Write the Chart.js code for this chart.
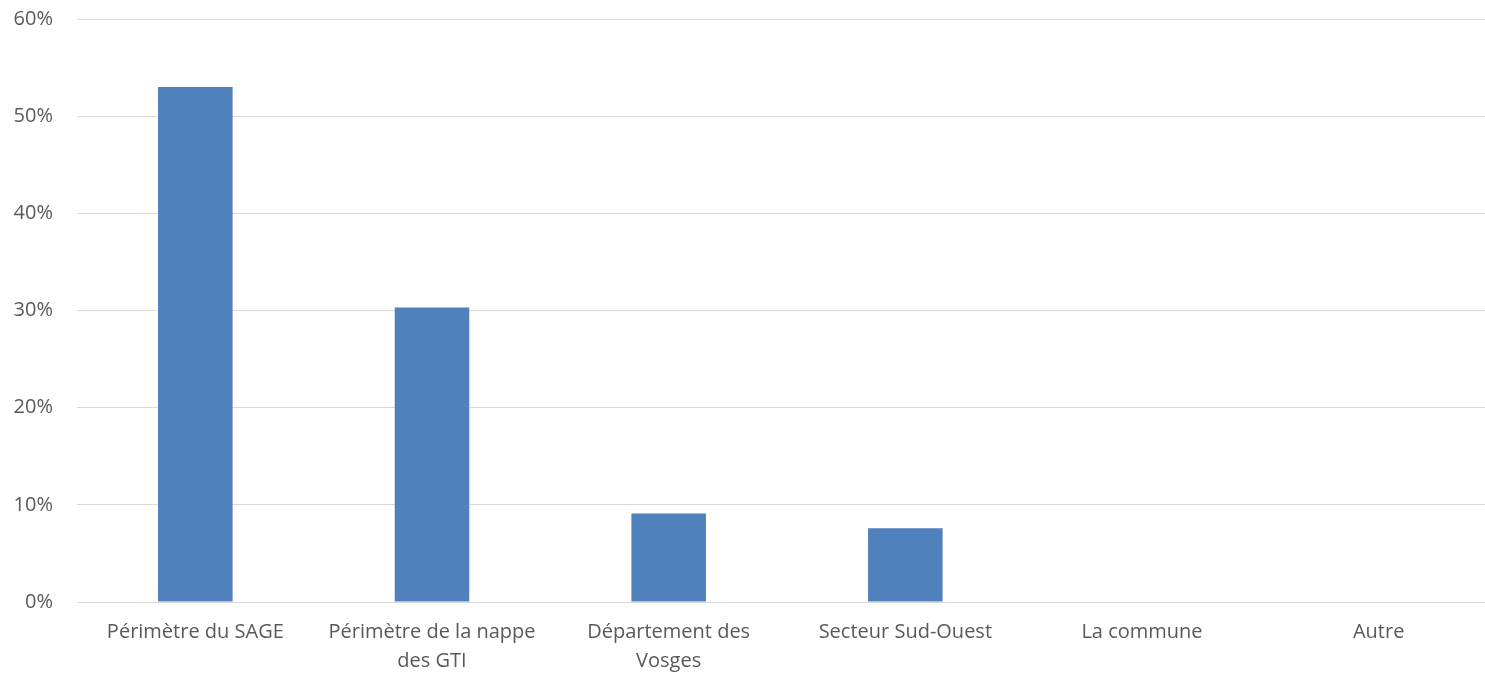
<!DOCTYPE html>
<html>
<head>
<meta charset="utf-8">
<script src="https://cdn.jsdelivr.net/npm/chart.js@4.4.1/dist/chart.umd.min.js"></script>
<style>
html,body{margin:0;padding:0;background:#fff;overflow:hidden;}
#wrap{width:1497px;height:691px;position:relative;top:-17px;}
</style>
</head>
<body>
<div id="wrap"><canvas id="c"></canvas></div>
<script>
const categories = [
  "Périmètre du SAGE",
  ["Périmètre de la nappe", "des GTI"],
  ["Département des", "Vosges"],
  "Secteur Sud-Ouest",
  "La commune",
  "Autre"
];
const values = [53.0, 30.3, 9.1, 7.6, 0, 0];
const yTicks = [0, 10, 20, 30, 40, 50, 60];

new Chart(document.getElementById('c'), {
  type: 'bar',
  data: {
    labels: categories,
    datasets: [{
      data: values,
      backgroundColor: '#4f81bd',
      borderWidth: 0,
      categoryPercentage: 1,
      barPercentage: 0.315
    }]
  },
  options: {
    responsive: true,
    maintainAspectRatio: false,
    animation: false,
    layout: { padding: { top: 0, right: 0, left: 0, bottom: 0 } },
    plugins: { legend: { display: false }, tooltip: { enabled: false } },
    scales: {
      x: {
        afterFit(s) { s.height = 72; },
        grid: { display: false, drawTicks: false },
        border: { display: true, color: '#d9d9d9', width: 1 },
        ticks: {
          color: '#595959',
          font: { family: 'Open Sans', size: 20, lineHeight: 1.45 },
          padding: 16,
          maxRotation: 0,
          autoSkip: false
        }
      },
      y: {
        min: 0, max: 60,
        afterFit(s) { s.width = 77; },
        afterBuildTicks(s) { s.ticks = yTicks.map(v => ({ value: v })); },
        grid: { color: '#d9d9d9', lineWidth: 1, drawTicks: false },
        border: { display: false },
        ticks: {
          color: '#595959',
          font: { family: 'Open Sans', size: 20 },
          padding: 24,
          callback: v => v + '%'
        }
      }
    }
  }
});
</script>
</body>
</html>
